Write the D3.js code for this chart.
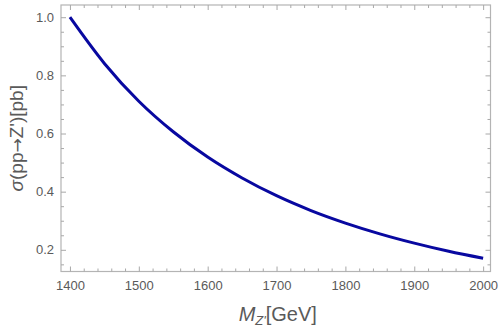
<!DOCTYPE html>
<html>
<head>
<meta charset="utf-8">
<script src="https://cdn.jsdelivr.net/npm/d3@7"></script>
<style>
  html, body { margin: 0; padding: 0; background: #fff; }
  svg { display: block; font-family: "Liberation Sans", Arial, sans-serif; }
</style>
</head>
<body>
<svg id="chart" width="500" height="335"></svg>
<script>
// Data
const massGeV = [1400, 1450, 1500, 1550, 1600, 1650, 1700, 1750, 1800, 1850, 1900, 1950, 2000];
const sigmaPb = [1.000, 0.841, 0.711, 0.606, 0.519, 0.447, 0.386, 0.335, 0.292, 0.255, 0.223, 0.195, 0.171];
const xTickValues = [1400, 1500, 1600, 1700, 1800, 1900, 2000];
const yTickValues = [0.2, 0.4, 0.6, 0.8, 1.0];

(function () {
const svg = d3.select("#chart");
const pL = 61, pR = 490.5, pT = 5, pB = 271.5;

const x = d3.scaleLinear().domain([1387, 2010.7]).range([pL, pR]);
const y = d3.scaleLinear().domain([0.1254, 1.042]).range([pB, pT]);

const frameColor = "#b4b4b4";
const tickColor = "#a8a8a8";
const labelColor = "#5a5a5a";

const xMinor = d3.range(1400, 2001, 20).filter(v => v % 100 !== 0);
const yMinor = d3.range(0.15, 1.04, 0.05).map(v => +v.toFixed(2)).filter(v => Math.abs(v * 5 - Math.round(v * 5)) > 1e-6);

svg.append("rect")
  .attr("x", pL).attr("y", pT)
  .attr("width", pR - pL).attr("height", pB - pT)
  .attr("fill", "none").attr("stroke", frameColor).attr("stroke-width", 1.2);

const fmtX = d3.format("d");
const fmtY = d3.format(".1f");

function styleAxis(g) {
  g.select(".domain").remove();
  g.selectAll(".tick line").attr("stroke", tickColor).attr("stroke-width", 1);
  g.selectAll(".tick text").attr("fill", labelColor).style("font-size", "13px");
}

svg.append("g").attr("transform", `translate(0,${pB})`)
  .call(d3.axisBottom(x).tickValues(xTickValues).tickFormat(fmtX).tickSizeInner(-5).tickSizeOuter(0).tickPadding(9))
  .call(styleAxis);
svg.append("g").attr("transform", `translate(0,${pB})`)
  .call(d3.axisBottom(x).tickValues(xMinor).tickFormat("").tickSizeInner(-3).tickSizeOuter(0))
  .call(styleAxis);
svg.append("g").attr("transform", `translate(0,${pT})`)
  .call(d3.axisTop(x).tickValues(xTickValues).tickFormat("").tickSizeInner(-5).tickSizeOuter(0))
  .call(styleAxis);
svg.append("g").attr("transform", `translate(0,${pT})`)
  .call(d3.axisTop(x).tickValues(xMinor).tickFormat("").tickSizeInner(-3).tickSizeOuter(0))
  .call(styleAxis);

svg.append("g").attr("transform", `translate(${pL},0)`)
  .call(d3.axisLeft(y).tickValues(yTickValues).tickFormat(fmtY).tickSizeInner(-5).tickSizeOuter(0).tickPadding(7))
  .call(styleAxis);
svg.append("g").attr("transform", `translate(${pL},0)`)
  .call(d3.axisLeft(y).tickValues(yMinor).tickFormat("").tickSizeInner(-3).tickSizeOuter(0))
  .call(styleAxis);
svg.append("g").attr("transform", `translate(${pR},0)`)
  .call(d3.axisRight(y).tickValues(yTickValues).tickFormat("").tickSizeInner(-5).tickSizeOuter(0))
  .call(styleAxis);
svg.append("g").attr("transform", `translate(${pR},0)`)
  .call(d3.axisRight(y).tickValues(yMinor).tickFormat("").tickSizeInner(-3).tickSizeOuter(0))
  .call(styleAxis);

const line = d3.line()
  .x((d, i) => x(massGeV[i]))
  .y((d, i) => y(sigmaPb[i]))
  .curve(d3.curveMonotoneX);

svg.append("path")
  .datum(sigmaPb)
  .attr("d", line)
  .attr("fill", "none")
  .attr("stroke", "#0808a0")
  .attr("stroke-width", 3);

const xl = svg.append("text")
  .attr("x", (pL + pR) / 2 + 2)
  .attr("y", 321)
  .attr("text-anchor", "middle")
  .attr("fill", labelColor)
  .style("font-size", "20px");
xl.append("tspan").text("M").style("font-style", "italic");
xl.append("tspan").text("Z'").style("font-style", "italic").style("font-size", "13px").attr("dy", 4);
xl.append("tspan").text("[GeV]").attr("dy", -4);

const yl = svg.append("text")
  .attr("transform", `translate(23,${(pT + pB) / 2}) rotate(-90)`)
  .attr("text-anchor", "middle")
  .attr("fill", labelColor)
  .style("font-size", "19px");
yl.append("tspan").text("σ").style("font-style", "italic");
yl.append("tspan").text("(pp");
yl.append("tspan").text("→").style("font-family", "DejaVu Sans").style("font-size", "17px");
yl.append("tspan").text("Z')[pb]");
})();
</script>
</body>
</html>
